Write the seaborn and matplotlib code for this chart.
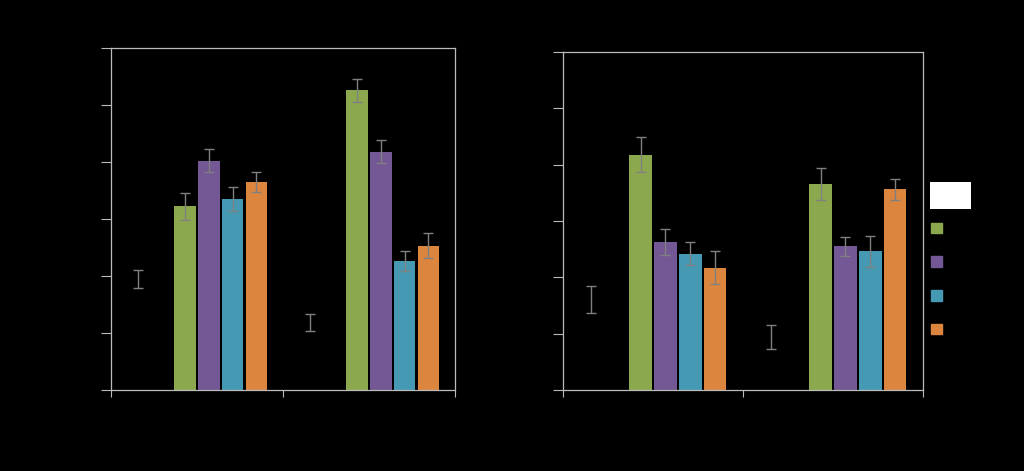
import numpy as np
import pandas as pd
import matplotlib
matplotlib.use("Agg")
import matplotlib.pyplot as plt
from matplotlib.patches import Patch, Rectangle
from matplotlib.container import BarContainer
import seaborn as sns

# ---- data (axis units = tick steps) ----
categories = ["Condition 1", "Condition 2"]
series = ["Baseline", "Gap", "Series A", "Series B", "Series C", "Series D"]
colors = ["#000000", "#000000", "#8ca84e", "#735895", "#4599b2", "#dc853f"]

left_baseline = [1.95, 1.18]
left_a = [3.22, 5.26]
left_b = [4.02, 4.18]
left_c = [3.35, 2.26]
left_d = [3.65, 2.53]
left_baseline_err = [0.16, 0.15]
left_a_err = [0.23, 0.20]
left_b_err = [0.20, 0.20]
left_c_err = [0.21, 0.17]
left_d_err = [0.18, 0.22]

right_baseline = [1.61, 0.94]
right_a = [4.18, 3.66]
right_b = [2.62, 2.55]
right_c = [2.42, 2.46]
right_d = [2.17, 3.56]
right_baseline_err = [0.24, 0.21]
right_a_err = [0.31, 0.28]
right_b_err = [0.23, 0.17]
right_c_err = [0.20, 0.28]
right_d_err = [0.29, 0.19]

yticks = [0, 1, 2, 3, 4, 5, 6]


def build(vals, errs):
    rows = []
    names = ["Baseline", "Series A", "Series B", "Series C", "Series D"]
    for name, v, e in zip(names, vals, errs):
        for cat, vv, ee in zip(categories, v, e):
            rows.append({"cat": cat, "series": name, "value": vv, "err": ee})
    return pd.DataFrame(rows)


left_df = build([left_baseline, left_a, left_b, left_c, left_d],
                [left_baseline_err, left_a_err, left_b_err, left_c_err, left_d_err])
right_df = build([right_baseline, right_a, right_b, right_c, right_d],
                 [right_baseline_err, right_a_err, right_b_err, right_c_err, right_d_err])

sns.set_style("white")
plt.rcParams["font.family"] = ["DejaVu Sans"]

fig = plt.figure(figsize=(10.24, 4.71), dpi=100, facecolor="black")
W, H = 1024, 471
ax1 = fig.add_axes([111 / W, 1 - 390 / H, (455 - 111) / W, (390 - 48) / H])
ax2 = fig.add_axes([563 / W, 1 - 390 / H, (923 - 563) / W, (390 - 52) / H])

palette = dict(zip(series, colors))

for ax, df in [(ax1, left_df), (ax2, right_df)]:
    ax.set_facecolor("black")
    sns.barplot(data=df, x="cat", y="value", hue="series", hue_order=series,
                order=categories, palette=palette, width=0.83, gap=0.1,
                errorbar=None, ax=ax, legend=False, saturation=1,
                linewidth=0)
    # error bars placed on the bars seaborn drew
    bar_containers = [c for c in ax.containers if isinstance(c, BarContainer)]
    for cont in bar_containers:
        for bar in list(cont.patches):
            h = bar.get_height()
            if np.isnan(h):
                continue
            xc = bar.get_x() + bar.get_width() / 2
            match = df[np.isclose(df["value"], h)]
            if len(match) == 0:
                continue
            e = match["err"].iloc[0]
            ax.errorbar(xc, h, yerr=e, color="#808080", elinewidth=1,
                        capsize=3.5, capthick=1, zorder=5)
    ax.set_xlim(-0.5, 1.5)
    ax.set_ylim(0, 6)
    ax.set_yticks(yticks)
    ax.set_yticklabels([str(t) for t in yticks], color="black")
    ax.set_xticks([-0.5, 0.5, 1.5])
    ax.set_xticklabels(["", "", ""])
    ax.set_xticks([0, 1], minor=True)
    ax.set_xticklabels(categories, minor=True, color="black")
    ax.tick_params(axis="x", which="minor", length=0)
    ax.tick_params(axis="y", which="major", length=7.5, width=0.8,
                   color="#bbbbbb", direction="out", left=True)
    ax.tick_params(axis="x", which="major", length=5, width=0.8,
                   color="#bbbbbb", direction="out", bottom=True)
    ax.set_xlabel("")
    ax.set_ylabel("Value", color="black")
    for s in ax.spines.values():
        s.set_visible(True)
        s.set_color("#bbbbbb")
        s.set_linewidth(0.9)

# legend header box (white) + colored squares
fig.add_artist(Rectangle((930 / W, 1 - 209 / H), 41 / W, 27 / H,
                         transform=fig.transFigure, facecolor="white",
                         edgecolor="none"))
handles = [Patch(facecolor=c, edgecolor=c) for c in colors[2:]]
labels = series[2:]
leg = ax2.legend(handles, labels, loc="upper left",
                 bbox_to_anchor=(928 / W, 1 - 219 / H),
                 bbox_transform=fig.transFigure, frameon=False,
                 handlelength=0.8, handleheight=0.8, labelspacing=1.42,
                 handletextpad=0.6, borderaxespad=0, borderpad=0.2)
for t in leg.get_texts():
    t.set_color("black")

fig.savefig("out.png", dpi=100, facecolor="black")
